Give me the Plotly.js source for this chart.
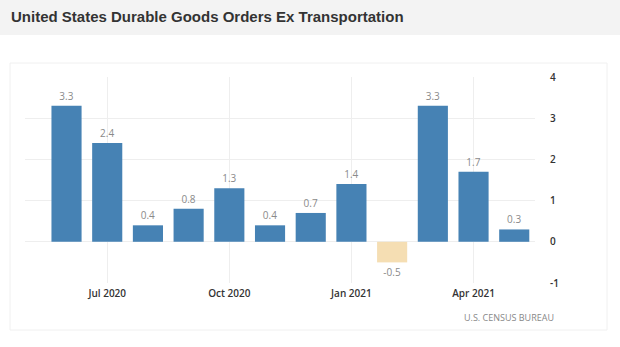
<!DOCTYPE html>
<html>
<head>
<meta charset="utf-8">
<script src="https://cdn.plot.ly/plotly-3.0.1.min.js"></script>
<style>html,body{margin:0;padding:0;background:#fff;}#chart{width:620px;height:347px;}</style>
</head>
<body>
<div id="chart"></div>
<script>
const months = ["Jun 2020","Jul 2020","Aug 2020","Sep 2020","Oct 2020","Nov 2020","Dec 2020","Jan 2021","Feb 2021","Mar 2021","Apr 2021","May 2021"];
const values = [3.3, 2.4, 0.4, 0.8, 1.3, 0.4, 0.7, 1.4, -0.5, 3.3, 1.7, 0.3];
const tickLabels = ["Jul 2020","Oct 2020","Jan 2021","Apr 2021"];
const yTicks = [-1, 0, 1, 2, 3, 4];

const colors = values.map(v => v < 0 ? '#f5deb3' : '#4682b4');

const trace = {
  type: 'bar',
  x: months,
  y: values,
  marker: {color: colors},
  width: 0.74,
  text: values.map(v => v.toFixed(1)),
  textposition: 'outside',
  textfont: {family: 'Open Sans, sans-serif', size: 10, color: '#8a8a8a'},
  cliponaxis: false,
  hoverinfo: 'none'
};

// plot area px: x 25..535, y 77..283
const px = x => (x - 25) / 510;
const py = y => (283 - y) / 206;

const layout = {
  width: 620, height: 347,
  margin: {l: 25, r: 85, t: 77, b: 64},
  paper_bgcolor: '#ffffff',
  plot_bgcolor: 'rgba(0,0,0,0)',
  showlegend: false,
  title: {
    text: 'United States Durable Goods Orders Ex Transportation',
    font: {family: 'Liberation Sans, Arial, sans-serif', size: 15, color: '#333', weight: 'bold'},
    x: 11/620, xanchor: 'left', xref: 'container',
    y: 1 - 17/347, yanchor: 'middle', yref: 'container'
  },
  xaxis: {
    type: 'category',
    range: [-1.02, 11.51],
    tickmode: 'array',
    tickvals: tickLabels,
    ticktext: tickLabels,
    showgrid: true, gridcolor: '#eeeeee', gridwidth: 1,
    zeroline: false, showline: false, ticks: '',
    ticklabelstandoff: 3,
    tickfont: {family: 'Open Sans, sans-serif', size: 10, color: '#333', weight: 600},
    fixedrange: true
  },
  yaxis: {
    side: 'right',
    range: [-1, 4],
    tickmode: 'array',
    tickvals: yTicks,
    ticktext: yTicks.map(String),
    showgrid: true, gridcolor: '#eeeeee', gridwidth: 1,
    zeroline: false, showline: false, ticks: '',
    ticklabelstandoff: 14,
    tickfont: {family: 'Open Sans, sans-serif', size: 10, color: '#333', weight: 600},
    fixedrange: true
  },
  shapes: [
    {type: 'rect', xref: 'paper', yref: 'paper', x0: px(0), x1: px(620), y0: py(35), y1: py(0),
     fillcolor: '#f3f3f3', line: {width: 0}, layer: 'below'},
    {type: 'rect', xref: 'paper', yref: 'paper', x0: px(10), x1: px(607), y0: py(330), y1: py(63),
     fillcolor: 'rgba(0,0,0,0)', line: {width: 1, color: '#f0f0f0'}, layer: 'below'}
  ],
  annotations: [
    {text: 'U.S. CENSUS BUREAU', xref: 'paper', yref: 'paper', x: px(556), y: py(317),
     xanchor: 'right', yanchor: 'middle', showarrow: false,
     font: {family: 'Open Sans, sans-serif', size: 9, color: '#888'}}
  ]
};

Plotly.newPlot('chart', [trace], layout, {displayModeBar: false, staticPlot: true});
</script>
</body>
</html>
